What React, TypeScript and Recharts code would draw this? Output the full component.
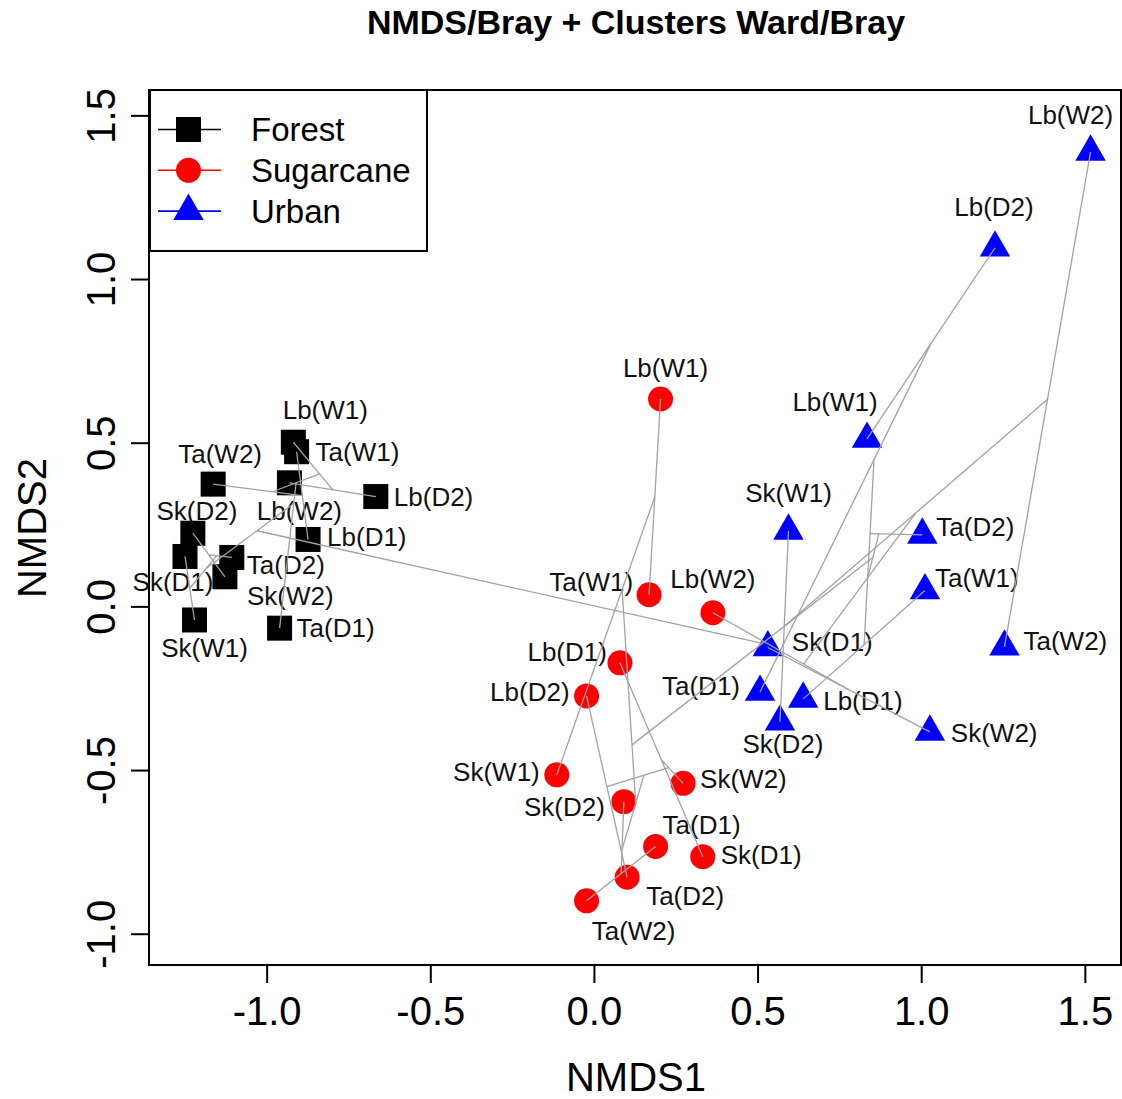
import React from "react";
import { ScatterChart, Scatter, XAxis, YAxis, ReferenceArea } from "recharts";

const FONT = '"Liberation Sans", Arial, sans-serif';

// NMDS scores, one array per land use
const forestLabels = ["Lb(W1)", "Ta(W1)", "Ta(W2)", "Lb(W2)", "Lb(D2)", "Sk(D2)", "Lb(D1)", "Sk(D1)", "Ta(D2)", "Sk(W2)", "Sk(W1)", "Ta(D1)"];
const forestX = [-0.92, -0.91, -1.165, -0.932, -0.668, -1.227, -0.875, -1.251, -1.108, -1.129, -1.222, -0.962];
const forestY = [0.503, 0.474, 0.375, 0.379, 0.337, 0.225, 0.206, 0.154, 0.151, 0.092, -0.04, -0.065];

const sugarLabels = ["Lb(W1)", "Ta(W1)", "Lb(W2)", "Lb(D1)", "Lb(D2)", "Sk(W1)", "Sk(W2)", "Sk(D2)", "Ta(D1)", "Sk(D1)", "Ta(D2)", "Ta(W2)"];
const sugarX = [0.202, 0.167, 0.362, 0.078, -0.024, -0.115, 0.271, 0.09, 0.187, 0.331, 0.1, -0.024];
const sugarY = [0.635, 0.037, -0.018, -0.171, -0.272, -0.513, -0.539, -0.595, -0.732, -0.763, -0.826, -0.898];

const urbanLabels = ["Lb(W2)", "Lb(D2)", "Lb(W1)", "Sk(W1)", "Ta(D2)", "Ta(W1)", "Ta(W2)", "Sk(D1)", "Ta(D1)", "Lb(D1)", "Sk(D2)", "Sk(W2)"];
const urbanX = [1.516, 1.224, 0.833, 0.593, 1.002, 1.01, 1.253, 0.53, 0.506, 0.638, 0.567, 1.025];
const urbanY = [1.39, 1.097, 0.513, 0.232, 0.22, 0.05, -0.122, -0.124, -0.26, -0.281, -0.351, -0.382];

// Ward/Bray merge order (ordicluster): point ids "F|S|U.label" or index of an earlier merge
const merges: [string | number, string | number][] = [
  ["F.Lb(W2)", "F.Lb(D2)"],
  ["F.Lb(W1)", 0],
  ["F.Ta(W1)", "F.Lb(D1)"],
  [2, "F.Ta(W2)"],
  [1, 3],
  [4, "F.Ta(D1)"],
  ["F.Sk(D1)", "F.Sk(W1)"],
  ["F.Sk(D2)", "F.Sk(W2)"],
  [7, "F.Ta(D2)"],
  [6, 8],
  [5, 9],
  ["S.Lb(W1)", "S.Ta(W1)"],
  [11, "S.Sk(W1)"],
  ["S.Lb(D1)", "S.Sk(D1)"],
  [13, "S.Sk(W2)"],
  ["S.Lb(D2)", "S.Ta(D2)"],
  [14, 15],
  ["S.Ta(W2)", "S.Ta(D1)"],
  [17, "S.Sk(D2)"],
  [16, 18],
  [12, 19],
  ["U.Lb(D2)", "U.Lb(W1)"],
  [21, "U.Ta(D1)"],
  ["U.Ta(W1)", "U.Lb(D1)"],
  [22, 23],
  [24, "U.Ta(D2)"],
  ["U.Lb(W2)", "U.Ta(W2)"],
  ["U.Sk(W1)", "U.Sk(D2)"],
  [26, 27],
  ["U.Sk(D1)", "U.Sk(W2)"],
  [29, "S.Lb(W2)"],
  [28, 30],
  [25, 31],
  [20, 32],
  [10, 33],
];

const xTicks = [-1, -0.5, 0, 0.5, 1, 1.5];
const yTicks = [-1, -0.5, 0, 0.5, 1, 1.5];
const X_DOMAIN: [number, number] = [-1.361, 1.609];
const Y_DOMAIN: [number, number] = [-1.094, 1.579];

// label placement around each point: dx, dy (px), anchor
type Place = [number, number, "start" | "middle" | "end"];
const labelPlace: Record<string, Record<string, Place>> = {
  F: {
    "Lb(W1)": [32, -32, "middle"], "Ta(W1)": [19, 0, "start"], "Ta(W2)": [7, -30, "middle"],
    "Lb(W2)": [10, 28, "middle"], "Lb(D2)": [18, 0, "start"], "Sk(D2)": [4, -22, "middle"],
    "Lb(D1)": [19, -2, "start"], "Sk(D1)": [-12, 26, "middle"], "Ta(D2)": [15, 8, "start"],
    "Sk(W2)": [22, 19, "start"], "Sk(W1)": [10, 28, "middle"], "Ta(D1)": [17, 0, "start"],
  },
  S: {
    "Lb(W1)": [5, -31, "middle"], "Ta(W1)": [-16, -13, "end"], "Lb(W2)": [0, -34, "middle"],
    "Lb(D1)": [-13, -11, "end"], "Lb(D2)": [-17, -4, "end"], "Sk(W1)": [-17, -3, "end"],
    "Sk(W2)": [17, -4, "start"], "Sk(D2)": [-19, 5, "end"], "Ta(D1)": [46, -22, "middle"],
    "Sk(D1)": [18, -2, "start"], "Ta(D2)": [19, 19, "start"], "Ta(W2)": [47, 30, "middle"],
  },
  U: {
    "Lb(W2)": [-20, -37, "middle"], "Lb(D2)": [-1, -41, "middle"], "Lb(W1)": [-32, -37, "middle"],
    "Sk(W1)": [0, -38, "middle"], "Ta(D2)": [14, -8, "start"], "Ta(W1)": [10, -13, "start"],
    "Ta(W2)": [19, -6, "start"], "Sk(D1)": [24, -5, "start"], "Ta(D1)": [-20, -6, "end"],
    "Lb(D1)": [20, 2, "start"], "Sk(D2)": [3, 22, "middle"], "Sk(W2)": [21, 1, "start"],
  },
};

const groups = [
  { key: "F", name: "Forest", color: "#000000", labels: forestLabels, xs: forestX, ys: forestY },
  { key: "S", name: "Sugarcane", color: "#ff0000", labels: sugarLabels, xs: sugarX, ys: sugarY },
  { key: "U", name: "Urban", color: "#0000ff", labels: urbanLabels, xs: urbanX, ys: urbanY },
];

type Pt = { x: number; y: number; label: string; group: string };
const groupData: Pt[][] = groups.map((g) =>
  g.labels.map((label, i) => ({ x: g.xs[i], y: g.ys[i], label, group: g.key }))
);

const pointById: Record<string, Pt> = {};
groupData.flat().forEach((p) => (pointById[`${p.group}.${p.label}`] = p));

// centroids of merged clusters, weighted by size, as vegan::ordicluster does
const nodes: { x: number; y: number; n: number }[] = [];
const getNode = (r: string | number) => {
  if (typeof r === "number") return nodes[r];
  const p = pointById[r];
  return { x: p.x, y: p.y, n: 1 };
};
const segments = merges.map(([a, b]) => {
  const A = getNode(a);
  const B = getNode(b);
  const n = A.n + B.n;
  nodes.push({ x: (A.x * A.n + B.x * B.n) / n, y: (A.y * A.n + B.y * B.n) / n, n });
  return [{ x: A.x, y: A.y }, { x: B.x, y: B.y }];
});

const Marker = ({ kind, cx, cy, color }: { kind: string; cx: number; cy: number; color: string }) => {
  if (kind === "F") return <rect x={cx - 12.5} y={cy - 12.5} width={25} height={25} fill={color} />;
  if (kind === "S") return <circle cx={cx} cy={cy} r={12.5} fill={color} />;
  const r = 11.3;
  return (
    <polygon
      points={`${cx},${cy - 1.555 * r} ${cx + 1.347 * r},${cy + 0.778 * r} ${cx - 1.347 * r},${cy + 0.778 * r}`}
      fill={color}
    />
  );
};

const PointShape = (props: any) => {
  const { cx, cy, payload } = props;
  const g = groups.find((d) => d.key === payload.group)!;
  const [dx, dy, anchor] = labelPlace[payload.group][payload.label];
  return (
    <g>
      <Marker kind={payload.group} cx={cx} cy={cy} color={g.color} />
      <text
        x={cx + dx}
        y={cy + dy}
        textAnchor={anchor}
        dominantBaseline="central"
        fontSize={26}
        fontFamily={FONT}
        fill="#111"
      >
        {payload.label}
      </text>
    </g>
  );
};

const XTick = (props: any) => {
  const { x, y, payload } = props;
  return (
    <text x={x} y={y + 40} textAnchor="middle" fontSize={40} fontFamily={FONT} fill="#000">
      {payload.value.toFixed(1)}
    </text>
  );
};

const YTick = (props: any) => {
  const { x, y, payload } = props;
  const bx = x - 14;
  return (
    <text x={bx} y={y} transform={`rotate(-90 ${bx} ${y})`} textAnchor="middle" fontSize={40} fontFamily={FONT} fill="#000">
      {payload.value.toFixed(1)}
    </text>
  );
};

const LegendBox = () => (
  <g transform="translate(149,89)">
    <rect x={1} y={1} width={277} height={161} fill="#fff" stroke="#000" strokeWidth={2} />
    {groups.map((g, i) => {
      const cy = 40.5 + i * 40.8;
      return (
        <g key={g.key}>
          <line x1={9} x2={72} y1={cy} y2={cy} stroke={g.color} strokeWidth={1.6} />
          <Marker kind={g.key} cx={39.5} cy={cy} color={g.color} />
          <text x={102} y={cy} dominantBaseline="central" fontSize={33} fontFamily={FONT} fill="#000">
            {g.name}
          </text>
        </g>
      );
    })}
  </g>
);

export default function App() {
  return (
    <div style={{ position: "absolute", left: 0, top: 0, width: 1122, height: 1099, background: "#fff" }}>
      <ScatterChart width={1122} height={1099} margin={{ top: 90, right: 1, bottom: 0, left: 0 }}>
        <XAxis
          type="number"
          dataKey="x"
          domain={X_DOMAIN}
          ticks={xTicks}
          height={134}
          axisLine={false}
          tickSize={18}
          tickLine={{ stroke: "#000", strokeWidth: 2 }}
          tick={<XTick />}
        />
        <YAxis
          type="number"
          dataKey="y"
          domain={Y_DOMAIN}
          ticks={yTicks}
          width={149}
          axisLine={false}
          tickSize={18}
          tickLine={{ stroke: "#000", strokeWidth: 2 }}
          tick={<YTick />}
        />
        <ReferenceArea
          x1={X_DOMAIN[0]}
          x2={X_DOMAIN[1]}
          y1={Y_DOMAIN[0]}
          y2={Y_DOMAIN[1]}
          fill="none"
          stroke="#000"
          strokeWidth={2}
          fillOpacity={0}
        />
        {groups.map((g, i) => (
          <Scatter
            key={g.key}
            name={g.name}
            data={groupData[i]}
            fill={g.color}
            shape={PointShape}
            isAnimationActive={false}
          />
        ))}
        {segments.map((s, i) => (
          <Scatter
            key={`seg${i}`}
            data={s}
            line={{ stroke: "#a2a2a2", strokeWidth: 1.3 }}
            lineType="joint"
            shape={() => <g />}
            legendType="none"
            isAnimationActive={false}
          />
        ))}
      </ScatterChart>
      <svg width={1122} height={1099} style={{ position: "absolute", left: 0, top: 0, pointerEvents: "none" }}>
        <text x={636} y={34} textAnchor="middle" fontWeight="bold" fontSize={34} fontFamily={FONT} fill="#000">
          NMDS/Bray + Clusters Ward/Bray
        </text>
        <text x={636} y={1091} textAnchor="middle" fontSize={40} fontFamily={FONT} fill="#000">
          NMDS1
        </text>
        <text x={46} y={528} transform="rotate(-90 46 528)" textAnchor="middle" fontSize={40} fontFamily={FONT} fill="#000">
          NMDS2
        </text>
        <LegendBox />
      </svg>
    </div>
  );
}
